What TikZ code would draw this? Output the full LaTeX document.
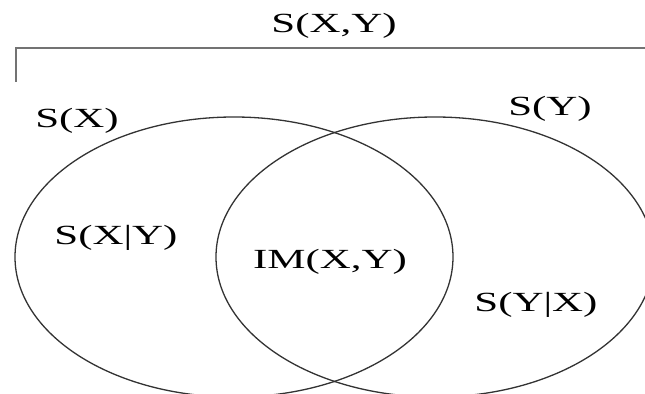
\documentclass[tikz,border=0pt]{standalone}
\usepackage{fontspec}
\setmainfont{Liberation Serif}
\usepackage{tikz}
\usetikzlibrary{positioning}
\newcommand{\wide}[1]{\scalebox{1.55}[1]{#1}}

\begin{document}
\begin{tikzpicture}[
        x=0.5pt, y=-0.5pt,
        every node/.style={font=\fontsize{13.85}{16}\selectfont, inner sep=0pt},
        setline/.style={draw=black!80, line width=0.65pt},
        bracket/.style={draw=black!55, line width=1pt},
    ]
        \useasboundingbox (0,0) rectangle (645,394);
        \clip (0,0) rectangle (645,394);

        \draw[setline] (234,257) ellipse [x radius=109.5pt, y radius=70pt];
        \draw[setline] (435,257) ellipse [x radius=109.5pt, y radius=70pt];

        \coordinate (brtip) at (16,82);
        \coordinate (brcorner) at (16,48);
        \coordinate (brend) at (650,48);
        \draw[bracket] (brtip) -- (brcorner) -- (brend);

        \node (sxy) at (334,26) {\wide{S(X,Y)}};
        \node (sx) at (77,121) {\wide{S(X)}};
        \node (sy) at (550,109) {\wide{S(Y)}};
        \node (sxgy) at (116,238) {\wide{S(X|Y)}};
        \node (im) at (330,262) {\wide{IM(X,Y)}};
        \node (sygx) at (536,305) {\wide{S(Y|X)}};
    \end{tikzpicture}
\end{document}
